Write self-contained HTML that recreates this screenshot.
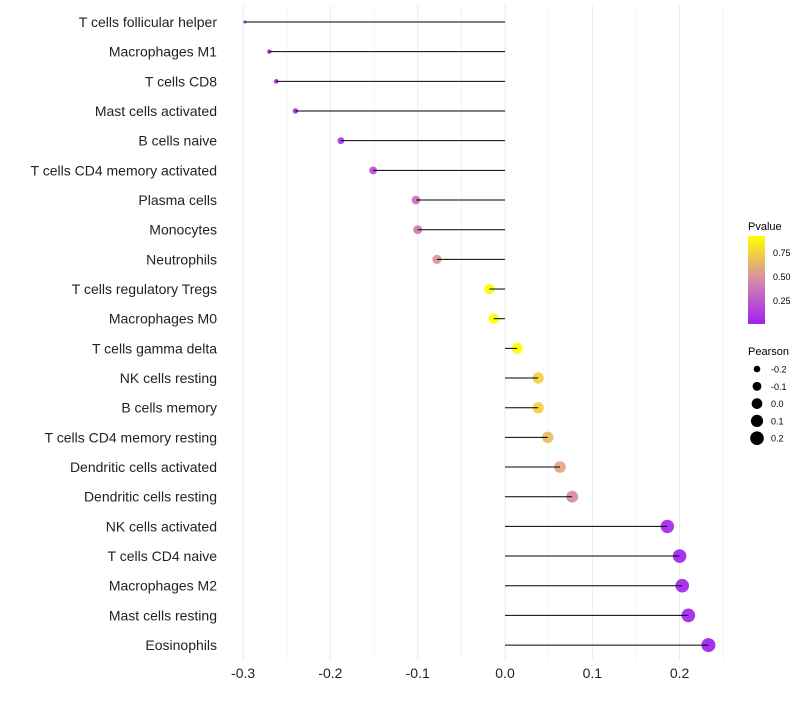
<!DOCTYPE html>
<html><head><meta charset="utf-8"><style>
body{margin:0;background:#fff;font-family:"Liberation Sans",sans-serif}
</style></head><body>
<svg id="chart" width="800" height="700" xmlns="http://www.w3.org/2000/svg">
<defs><linearGradient id="pg" x1="0" y1="1" x2="0" y2="0">
<stop offset="0" stop-color="#a020f0"/><stop offset="0.5" stop-color="#d88aa8"/><stop offset="1" stop-color="#ffff00"/></linearGradient></defs>
<g id="grid"></g>
<g id="dots"></g>
<g id="marks"></g>
<g id="labels"></g>
<g id="xticks"></g>
<g font-size="10">
<text x="748" y="230" font-size="11">Pvalue</text>
<rect x="748" y="236" width="17" height="88" fill="url(#pg)"/>
<text x="773" y="256" font-size="9">0.75</text>
<text x="773" y="280" font-size="9">0.50</text>
<text x="773" y="304" font-size="9">0.25</text>
</g>
<g id="sizeleg">
<text x="748" y="355" font-size="11">Pearson</text>
</g>
</svg>
<script>
const categories=["T cells follicular helper","Macrophages M1","T cells CD8","Mast cells activated","B cells naive","T cells CD4 memory activated","Plasma cells","Monocytes","Neutrophils","T cells regulatory  Tregs ","Macrophages M0","T cells gamma delta","NK cells resting","B cells memory","T cells CD4 memory resting","Dendritic cells activated","Dendritic cells resting","NK cells activated","T cells CD4 naive","Macrophages M2","Mast cells resting","Eosinophils"];
const pearson=[-0.298,-0.270,-0.262,-0.240,-0.188,-0.151,-0.102,-0.100,-0.078,-0.018,-0.013,0.014,0.038,0.038,0.049,0.063,0.077,0.186,0.200,0.203,0.210,0.233];
const pvalues=[0.01,0.02,0.03,0.05,0.12,0.2,0.37,0.38,0.5,0.92,0.92,0.92,0.74,0.74,0.66,0.57,0.46,0.04,0.03,0.03,0.03,0.01];
const xTicks=[-0.3,-0.2,-0.1,0.0,0.1,0.2];
const xTickLabels=["-0.3","-0.2","-0.1","0.0","0.1","0.2"];
const sizeLegend=[-0.2,-0.1,0.0,0.1,0.2];
const sizeLegendLabels=["-0.2","-0.1","0.0","0.1","0.2"];
const NS="http://www.w3.org/2000/svg";
const x=v=>505+v*873;
const y=i=>22+i*29.67;
const r=v=>Math.sqrt(Math.max(0.5,28.5+88*v));
function col(p){const t=Math.min(1,Math.max(0,(p-0.01)/(0.917-0.01)));
const a=[160,32,240],m=[216,138,168],b=[255,255,0];let c;
if(t<0.5){const u=t/0.5;c=a.map((v,k)=>v+(m[k]-v)*u);}else{const u=(t-0.5)/0.5;c=m.map((v,k)=>v+(b[k]-v)*u);}
return `rgb(${c.map(Math.round).join(',')})`;}
function mk(t,attrs,parent){const e=document.createElementNS(NS,t);for(const k in attrs)e.setAttribute(k,attrs[k]);parent.appendChild(e);return e;}
const grid=document.getElementById('grid'),marks=document.getElementById('marks'),dots=document.getElementById('dots'),labels=document.getElementById('labels'),xt=document.getElementById('xticks'),sl=document.getElementById('sizeleg');
for(let v=-0.3;v<=0.251;v+=0.05){const g=mk('line',{x1:x(v),x2:x(v),y1:5,y2:660,stroke:'#ebebeb','stroke-width':Math.abs(Math.round(v*20))%2==0?1:0.6},grid);

}
xTicks.forEach((v,i)=>{const t=mk('text',{x:x(v),y:678,'text-anchor':'middle','font-size':14,fill:'#222'},xt);t.textContent=xTickLabels[i];

});
categories.forEach((c,i)=>{
const d=mk('circle',{cx:x(pearson[i]),cy:y(i),r:r(pearson[i]),fill:col(pvalues[i]),'fill-opacity':0.92},dots);


const l=mk('line',{x1:x(0),x2:x(pearson[i]),y1:y(i),y2:y(i),stroke:'#000','stroke-width':1},marks);


const t=mk('text',{x:217,y:y(i)+5,'text-anchor':'end','font-size':14,fill:'#222'},labels);t.textContent=c;

});
sizeLegend.forEach((v,i)=>{const cy=369+i*17.3;
const c=mk('circle',{cx:757,cy:cy,r:r(v),fill:'#000'},sl);


const t=mk('text',{x:771,y:cy+3.5,'font-size':9},sl);t.textContent=sizeLegendLabels[i];

});
</script>
</body></html>
